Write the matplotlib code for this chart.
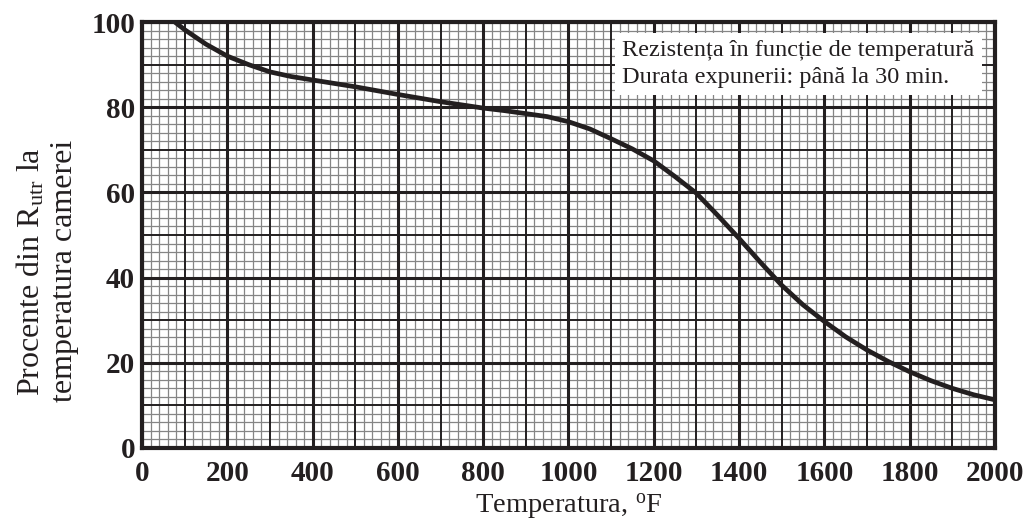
import numpy as np
import matplotlib
matplotlib.use('Agg')
import matplotlib.pyplot as plt

plt.rcParams['font.family'] = ['Liberation Serif', 'DejaVu Serif']
plt.rcParams['mathtext.fontset'] = 'custom'
plt.rcParams['mathtext.rm'] = 'Liberation Serif'

INK = '#231f20'

# curve (temperature in F, percent of room-temp strength)
temp = [77, 100, 150, 200, 250, 300, 350, 400, 450, 500, 600, 700, 800, 850,
        900, 950, 1000, 1050, 1100, 1150, 1200, 1250, 1300, 1350, 1400, 1450,
        1500, 1550, 1600, 1650, 1700, 1750, 1800, 1850, 1900, 1950, 2000]
percent = [100, 98.2, 94.8, 92.0, 90.0, 88.3, 87.2, 86.4, 85.6, 84.8, 83.0,
           81.3, 79.8, 79.2, 78.5, 77.8, 76.6, 74.9, 72.6, 70.2, 67.4, 63.7,
           59.8, 54.6, 49.2, 43.6, 38.2, 33.6, 29.7, 26.1, 23.0, 20.3, 17.9,
           15.8, 14.0, 12.5, 11.3]

x_ticks = [0, 200, 400, 600, 800, 1000, 1200, 1400, 1600, 1800, 2000]
y_ticks = [0, 20, 40, 60, 80, 100]

note_lines = ['Rezistența în funcție de temperatură',
              'Durata expunerii: până la 30 min.']

fig = plt.figure(figsize=(10.27, 5.25), dpi=100)
ax = fig.add_axes([0.1383, 0.1467, 0.8305, 0.8113])
ax.set_xlim(0, 2000)
ax.set_ylim(0, 100)

# graph-paper grid: fine gray, medium black, heavy black
for xv in np.arange(0, 2001, 20):
    if xv % 200 == 0:
        ax.axvline(xv, color=INK, lw=2.2, zorder=3)
    elif xv % 100 == 0:
        ax.axvline(xv, color=INK, lw=1.4, zorder=2)
    else:
        ax.axvline(xv, color='#858585', lw=0.9, zorder=1)
for yv in np.arange(0, 101, 2):
    if yv % 20 == 0:
        ax.axhline(yv, color=INK, lw=2.2, zorder=3)
    elif yv % 10 == 0:
        ax.axhline(yv, color=INK, lw=1.4, zorder=2)
    else:
        ax.axhline(yv, color='#858585', lw=0.9, zorder=1)

ax.plot(temp, percent, color=INK, lw=3.4, solid_capstyle='butt', zorder=5)

for s in ax.spines.values():
    s.set_linewidth(3)
    s.set_color(INK)
    s.set_zorder(6)

ax.set_xticks(x_ticks)
ax.set_yticks(y_ticks)
ax.set_xticklabels([str(v) for v in x_ticks], fontsize=21, fontweight='bold', color=INK)
ax.set_yticklabels([str(v) for v in y_ticks], fontsize=21, fontweight='bold', color=INK)
ax.tick_params(axis='both', length=0)
ax.tick_params(axis='x', pad=9)
ax.tick_params(axis='y', pad=5)

ax.set_xlabel('Temperatura, $\\mathregular{^{o}}$F', fontsize=20.5, color=INK, labelpad=3)
ax.set_ylabel('Procente din R$\\mathregular{_{utr}}$ la\ntemperatura camerei',
              fontsize=23, color=INK, linespacing=1.15)
ax.yaxis.set_label_coords(-0.074, 0.415)

ax.text(0.563, 0.958, '\n'.join(note_lines), transform=ax.transAxes,
        fontsize=17.5, color=INK, va='top', ha='left', linespacing=1.35, zorder=7,
        bbox=dict(facecolor='white', edgecolor='none', pad=5))

fig.savefig('out.png', dpi=100)
